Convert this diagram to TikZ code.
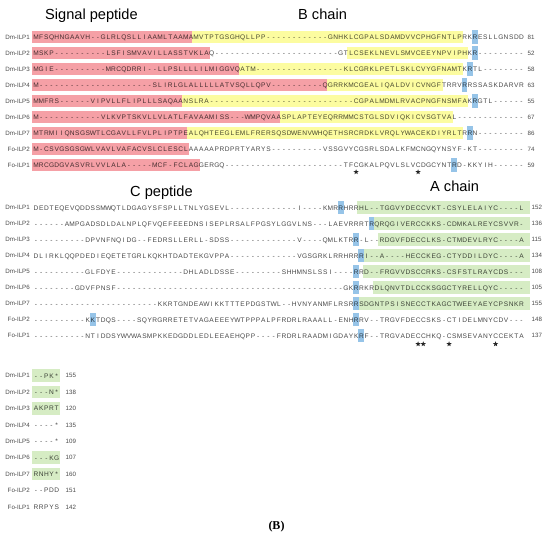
\documentclass[tikz,border=0pt]{standalone}
\usepackage{fontspec}
\setmainfont{Liberation Sans}
\newfontfamily\serifbold{Liberation Serif}
\usetikzlibrary{shapes.geometric}
\definecolor{redc}{RGB}{245,160,166}
\definecolor{yelc}{RGB}{252,252,160}
\definecolor{grnc}{RGB}{214,236,196}
\definecolor{bluc}{RGB}{150,196,232}
\definecolor{labc}{RGB}{75,75,75}
\newlength\cw
\setlength\cw{5.165pt}
\ExplSyntaxOn
\cs_new:Npn \gaps #1 { \prg_replicate:nn {#1} {-} }
\ExplSyntaxOff
\def\seqloop#1{\ifx\relax#1\else\makebox[\cw][c]{#1}\expandafter\seqloop\fi}
\newcommand\seqrow[1]{\edef\tmpseq{#1}\expandafter\seqloop\tmpseq\relax}
% band: y, from col, to col, colour
\newcommand\band[4]{\fill[#4] ({33.3+(#2-1)*5.165-1.2},{#1-6.25}) rectangle ({33.3+(#3)*5.165+1.2},{#1+6.25});}
\newcommand\bbox[2]{\fill[bluc] ({33.3+(#2-1)*5.165-0.3},{#1-6.6}) rectangle ({33.3+(#2)*5.165+0.3},{#1+6.6});}
% row: name, y, label, sequence, number, number x
\newcommand\srow[6]{%
  \node[lab] (#1l) at (30,{#2+2.2}) {#3};
  \node[seq] (#1s) at (33.3,{#2+2.33}) {\seqrow{#4}};
  \node[num] (#1n) at (#6,{#2+2.2}) {#5};}
\begin{document}
\begin{tikzpicture}[x=1pt,y=-1pt,
  seq/.style={anchor=base west, inner sep=0pt, font=\fontsize{6.6}{7}\selectfont, text=black, text opacity=0.72},
  lab/.style={anchor=base east, inner sep=0pt, font=\fontsize{6.2}{7}\selectfont, text=labc},
  num/.style={anchor=base west, inner sep=0pt, font=\fontsize{6.2}{7}\selectfont, text=labc},
  title/.style={anchor=base west, inner sep=0pt, font=\fontsize{14.6}{16}\selectfont},
  starm/.style={star, star points=5, star point ratio=2.4, fill=black!85, draw=none, inner sep=0pt, minimum size=5.5pt}]
\fill[white] (0,0) rectangle (550,539);
\useasboundingbox (0,0) rectangle (550,539);

% titles
\node[title] (tsig) at (45,19.5) {Signal peptide};
\node[title] (tb) at (298,19.5) {B chain};
\node[title] (tc) at (130,196.7) {C peptide};
\node[title] (ta) at (430,191) {A chain};

% ---------- block 1 bands ----------
\band{37}{1}{31}{redc}   \band{37}{32}{83}{yelc}
\band{53}{1}{34}{redc}   \band{53}{62}{84}{yelc}
\band{69}{1}{40}{redc}   \band{69}{41}{83}{yelc}
\band{85}{1}{57}{redc}   \band{85}{58}{79}{yelc}
\band{101}{1}{29}{redc}  \band{101}{30}{84}{yelc}
\band{117}{1}{48}{redc}  \band{117}{49}{81}{yelc}
\band{133}{1}{30}{redc}  \band{133}{31}{83}{yelc}
\band{149}{1}{30}{redc}
\band{165}{1}{32}{redc}
\bbox{37}{86} \bbox{53}{86} \bbox{69}{85} \bbox{85}{84} \bbox{101}{86}
\bbox{133}{85} \bbox{165}{82}

% ---------- block 2 bands ----------
\band{207.7}{64}{96}{grnc}
\band{223.7}{67}{96}{grnc}
\band{239.7}{68}{96}{grnc}
\band{255.7}{65}{96}{grnc}
\band{271.7}{65}{96}{grnc}
\band{287.7}{67}{96}{grnc}
\band{303.7}{64}{96}{grnc}
\bbox{207.7}{60} \bbox{223.7}{66} \bbox{239.7}{63} \bbox{255.7}{64}
\bbox{271.7}{63} \bbox{287.7}{63} \bbox{303.7}{63} \bbox{319.7}{12}
\bbox{319.7}{63} \bbox{335.7}{64}

% ---------- block 3 bands ----------
\band{375.7}{1}{5}{grnc}
\band{392.1}{1}{5}{grnc}
\band{408.5}{1}{5}{grnc}
\band{457.7}{1}{5}{grnc}
\band{474.1}{1}{5}{grnc}

% ---------- block 1 text ----------
\srow{a1}{37}{Dm-ILP1}{MFSQHNGAAVH\gaps{2}GLRLQSLLIAAMLTAAMAMVTPTGSGHQLLPP\gaps{12}GNHKLCGPALSDAMDVVCPHGFNTLPRKRESLLGNSDD}{81}{527.5}
\srow{a2}{53}{Dm-ILP2}{MSKP\gaps{10}LSFISMVAVILLASSTVKLAQ\gaps{24}GTLCSEKLNEVLSMVCEEYNPVIPHKR\gaps{9}}{52}{527.5}
\srow{a3}{69}{Dm-ILP3}{MGIE\gaps{10}MRCQDRRI\gaps{2}LLPSLLLLILMIGGVQATM\gaps{17}KLCGRKLPETLSKLCVYGFNAMTKRTL\gaps{8}}{58}{527.5}
\srow{a4}{85}{Dm-ILP4}{M\gaps{22}SLIRLGLALLLLLATVSQLLQPV\gaps{10}QGRRKMCGEALIQALDVICVNGFTRRVRRSSASKDARVR}{63}{527.5}
\srow{a5}{101}{Dm-ILP5}{MMFRS\gaps{6}VIPVLLFLIPLLLSAQAANSLRA\gaps{28}CGPALMDMLRVACPNGFNSMFAKRGTL\gaps{6}}{55}{527.5}
\srow{a6}{117}{Dm-ILP6}{M\gaps{12}VLKVPTSKVLLVLATLFAVAAMISS\gaps{3}WMPQVAASPLAPTEYEQRRMMCSTGLSDVIQKICVSGTVAL\gaps{13}}{67}{527.5}
\srow{a7}{133}{Dm-ILP7}{MTRMIIQNSGSWTLCGAVLLFVLPLIPTPEALQHTEEGLEMLFRERSQSDWENVWHQETHSRCRDKLVRQLYWACEKDIYRLTRRN\gaps{9}}{86}{527.5}
\srow{a8}{149}{Fo-ILP2}{M-CSVGSGSGWLVAVLVAFACVSLCLESCLAAAAAPRDPRTYARYS\gaps{10}VSSGVYCGSRLSDALKFMCNGQYNSYF-KT\gaps{9}}{74}{527.5}
\srow{a9}{165}{Fo-ILP1}{MRCGDGVASVRLVVLALA\gaps{5}MCF-FCLAGGERGQ\gaps{23}TFCGKALPQVLSLVCDGCYNTRD-KKYIH\gaps{6}}{59}{527.5}
\node[starm] (sa1) at ({33.3+62.5*5.165},172) {};
\node[starm] (sa2) at ({33.3+74.5*5.165},172) {};

% ---------- block 2 text ----------
\srow{b1}{207.7}{Dm-ILP1}{DEDTEQEVQDDSSMWQTLDGAGYSFSPLLTNLYGSEVL\gaps{13}I\gaps{4}KMRRHRRHL\gaps{2}TGGVYDECCVKT-CSYLELAIYC\gaps{4}L}{152}{531.5}
\srow{b2}{223.7}{Dm-ILP2}{\gaps{6}AMPGADSDLDALNPLQFVQEFEEEDNSISEPLRSALFPGSYLGGVLNS\gaps{3}LAEVRRRTRQRQGIVERCCKKS-CDMKALREYCSVVR-}{136}{531.5}
\srow{b3}{239.7}{Dm-ILP3}{\gaps{10}DPVNFNQIDG--FEDRSLLERLL-SDSS\gaps{13}V\gaps{4}QMLKTRR-L--RDGVFDECCLKS-CTMDEVLRYC\gaps{4}A}{115}{531.5}
\srow{b4}{255.7}{Dm-ILP4}{DLIRKLQQPDEDIEQETETGRLKQKHTDADTEKGVPPA\gaps{13}VGSGRKLRRHRRRI--A\gaps{4}HECCKEG-CTYDDILDYC\gaps{4}A}{134}{531.5}
\srow{b5}{271.7}{Dm-ILP5}{\gaps{10}GLFDYE\gaps{13}DHLADLDSSE\gaps{9}SHHMNSLSSI\gaps{4}RRD--FRGVVDSCCRKS-CSFSTLRAYCDS\gaps{3}}{108}{531.5}
\srow{b6}{287.7}{Dm-ILP6}{\gaps{8}GDVFPNSF\gaps{44}GKRRKRDLQNVTDLCCKSGGCTYRELLQYC\gaps{5}}{105}{531.5}
\srow{b7}{303.7}{Dm-ILP7}{\gaps{24}KKRTGNDEAWIKKTTTEPDGSTWL--HVNYANMFLRSRRSDGNTPSISNECCTKAGCTWEEYAEYCPSNKR}{155}{531.5}
\srow{b8}{319.7}{Fo-ILP2}{\gaps{10}KKTDQS\gaps{4}SQYRGRRETETVAGAEEEYWTPPPALPFRDRLRAAALL-ENHRRV--TRGVFDECCSKS-CTIDELMNYCDV\gaps{3}}{148}{531.5}
\srow{b9}{335.7}{Fo-ILP1}{\gaps{10}NTIDDSYWVWASMPKKEDGDDLEDLEEAEHQPP\gaps{4}FRDRLRAADMIGDAYKRF--TRGVADECCHKQ-CSMSEVANYCCEKTA}{137}{531.5}
\node[starm] (sb1) at ({33.3+74.5*5.165},344) {};
\node[starm] (sb2) at ({33.3+75.5*5.165},344) {};
\node[starm] (sb3) at ({33.3+80.5*5.165},344) {};
\node[starm] (sb4) at ({33.3+89.5*5.165},344) {};

% ---------- block 3 text ----------
\srow{c1}{375.7}{Dm-ILP1}{--PK*}{155}{65.5}
\srow{c2}{392.1}{Dm-ILP2}{---N*}{138}{65.5}
\srow{c3}{408.5}{Dm-ILP3}{AKPRT}{120}{65.5}
\srow{c4}{424.9}{Dm-ILP4}{----*}{135}{65.5}
\srow{c5}{441.3}{Dm-ILP5}{----*}{109}{65.5}
\srow{c6}{457.7}{Dm-ILP6}{---KG}{107}{65.5}
\srow{c7}{474.1}{Dm-ILP7}{RNHY*}{160}{65.5}
\srow{c8}{490.5}{Fo-ILP2}{--PDD}{151}{65.5}
\srow{c9}{506.9}{Fo-ILP1}{RRPYS}{142}{65.5}

\node[anchor=center, inner sep=0pt, font=\serifbold\bfseries\fontsize{12}{13}\selectfont] (fig) at (276.5,527) {(B)};
\end{tikzpicture}
\end{document}
